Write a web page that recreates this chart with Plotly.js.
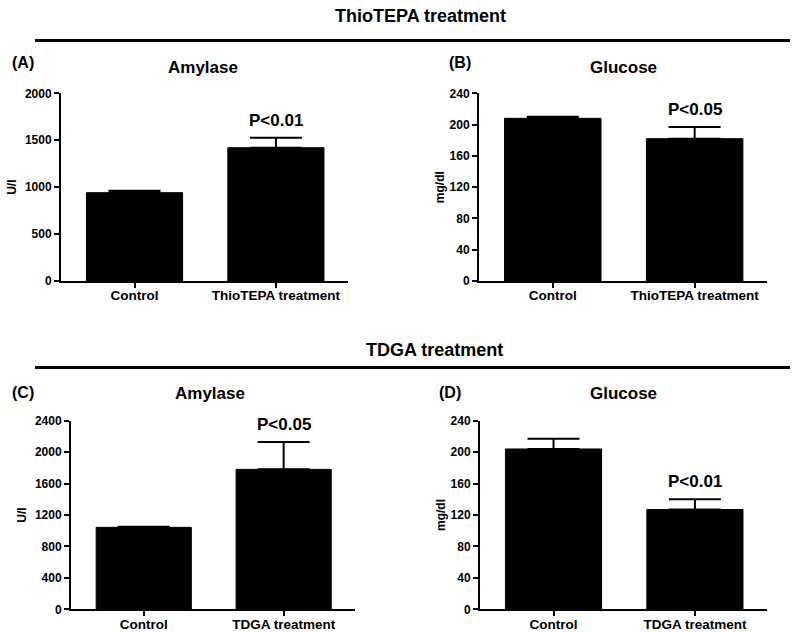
<!DOCTYPE html>
<html>
<head>
<meta charset="utf-8">
<script src="https://cdn.plot.ly/plotly-3.0.1.min.js"></script>
<style>html,body{margin:0;padding:0;background:#fff;}#chart{width:800px;height:632px;}</style>
</head>
<body>
<div id="chart"></div>
<script>
// ---- data ----
const catsThio = ["Control", "ThioTEPA treatment"];
const catsTdga = ["Control", "TDGA treatment"];
const amylaseThio = [941, 1420];
const amylaseThioErr = [21, 107];
const glucoseThio = [208, 182];
const glucoseThioErr = [2, 15];
const amylaseTdga = [1043, 1781];
const amylaseTdgaErr = [8, 348];
const glucoseTdga = [204, 127];
const glucoseTdgaErr = [13, 13];
const ticksAmyThio = [0, 500, 1000, 1500, 2000];
const ticksAmyTdga = [0, 400, 800, 1200, 1600, 2000, 2400];
const ticksGlu = [0, 40, 80, 120, 160, 200, 240];
const pvals = ["P<0.01", "P<0.05", "P<0.05", "P<0.01"];

const F = "Liberation Sans, Arial, sans-serif";
const W = 800, H = 632;
function px(x){return x/W;}
function py(y){return 1 - y/H;}

function barTrace(cats, vals, errs, n){
  return {
    type: "bar", x: cats, y: vals,
    xaxis: "x" + (n===1?"":n), yaxis: "y" + (n===1?"":n),
    marker: {color: "#000", line: {color: "#000", width: 1}},
    width: 0.68,
    error_y: {type: "data", array: errs, arrayminus: errs.map(()=>0), symmetric: false,
              color: "#000", thickness: 2, width: 26},
    showlegend: false, hoverinfo: "x+y"
  };
}
const data = [
  barTrace(catsThio, amylaseThio, amylaseThioErr, 1),
  barTrace(catsThio, glucoseThio, glucoseThioErr, 2),
  barTrace(catsTdga, amylaseTdga, amylaseTdgaErr, 3),
  barTrace(catsTdga, glucoseTdga, glucoseTdgaErr, 4)
];

function xax(x0, x1){
  return {domain: [px(x0), px(x1)], range: [-0.52, 1.51], showline: true, linewidth: 2, linecolor: "#000",
    ticks: "outside", ticklen: 5, tickwidth: 1.5, tickcolor: "#000", showgrid: false, zeroline: false,
    ticklabelstandoff: -4,
    tickfont: {family: F, size: 13.5, color: "#000", weight: "bold"}, fixedrange: true};
}
function yax(y0, y1, maxv, tv, title, standoff){
  return {domain: [py(y1), py(y0)], range: [0, maxv], showline: true, linewidth: 2, linecolor: "#000",
    ticks: "outside", ticklen: 5, tickwidth: 1.5, tickcolor: "#000", showgrid: false, zeroline: false,
    tickvals: tv, ticktext: tv.map(String),
    tickfont: {family: F, size: 12, color: "#000", weight: "bold"},
    title: {text: title, font: {family: F, size: 12, color: "#000", weight: "bold"}, standoff: standoff},
    fixedrange: true};
}

const layout = {
  width: W, height: H, margin: {l: 0, r: 0, t: 0, b: 0}, paper_bgcolor: "#fff", plot_bgcolor: "#fff",
  xaxis: xax(61, 348), yaxis: yax(93.3, 281, 2000, ticksAmyThio, "U/l", 6),
  xaxis2: xax(479, 767), yaxis2: yax(93.3, 281, 240, ticksGlu, "mg/dl", 2),
  xaxis3: xax(71, 355), yaxis3: yax(420.7, 609.3, 2400, ticksAmyTdga, "U/l", 6),
  xaxis4: xax(480, 767), yaxis4: yax(420.7, 609.3, 240, ticksGlu, "mg/dl", 2),
  shapes: [
    {type: "line", xref: "paper", yref: "paper", x0: px(35), x1: px(790), y0: py(40.5), y1: py(40.5), line: {color: "#000", width: 3}},
    {type: "line", xref: "paper", yref: "paper", x0: px(35), x1: px(790), y0: py(367.5), y1: py(367.5), line: {color: "#000", width: 3}}
  ],
  annotations: []
};
layout.xaxis.anchor = "y"; layout.yaxis.anchor = "x";
layout.xaxis2.anchor = "y2"; layout.yaxis2.anchor = "x2";
layout.xaxis3.anchor = "y3"; layout.yaxis3.anchor = "x3";
layout.xaxis4.anchor = "y4"; layout.yaxis4.anchor = "x4";

function ann(text, x, y, size){
  return {text: text, xref: "paper", yref: "paper", x: px(x), y: py(y), showarrow: false,
    xanchor: "center", yanchor: "middle", font: {family: F, size: size, color: "#000", weight: "bold"}};
}
layout.annotations.push(
  ann("ThioTEPA treatment", 420, 16, 18),
  ann("TDGA treatment", 434, 350, 18),
  ann("(A)", 23, 63, 16), ann("(B)", 460, 63, 16), ann("(C)", 23, 392, 16), ann("(D)", 450, 392, 16),
  ann("Amylase", 203, 67, 17), ann("Glucose", 623, 67, 17),
  ann("Amylase", 210, 393, 17), ann("Glucose", 623, 393, 17)
);
// P-value labels anchored to the treatment bar in data coordinates
const pTop = [amylaseThio[1]+amylaseThioErr[1], glucoseThio[1]+glucoseThioErr[1], amylaseTdga[1]+amylaseTdgaErr[1], glucoseTdga[1]+glucoseTdgaErr[1]];
const pCats = [catsThio[1], catsThio[1], catsTdga[1], catsTdga[1]];
const axn = ["", "2", "3", "4"];
for (let i = 0; i < 4; i++) {
  layout.annotations.push({text: pvals[i], xref: "x" + axn[i], yref: "y" + axn[i], x: pCats[i], y: pTop[i],
    yshift: 6, showarrow: false, xanchor: "center", yanchor: "bottom",
    font: {family: F, size: 17, color: "#000", weight: "bold"}});
}

Plotly.newPlot("chart", data, layout, {displayModeBar: false});
</script>
</body>
</html>
